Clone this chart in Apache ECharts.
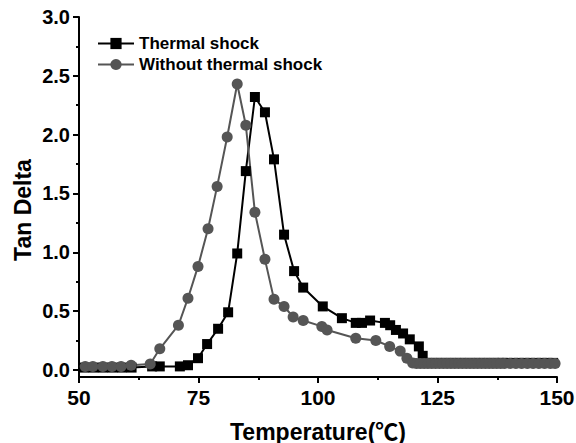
<!DOCTYPE html>
<html><head><meta charset="utf-8">
<script src="https://cdn.jsdelivr.net/npm/echarts@6/dist/echarts.min.js"></script>
<style>html,body{margin:0;padding:0;background:#fff}#c{width:576px;height:443px}</style>
</head><body><div id="c"></div>
<script>
// Thermal shock (squares)
var tempShock = [51, 53, 55, 57, 59, 61, 65.3, 66.9, 71.1, 72.8, 74.9, 76.8, 79.1, 81.2, 83.1, 84.9, 86.8, 88.9, 90.8, 92.9, 95.0, 96.9, 101.0, 105.0, 107.9, 109.2, 110.9, 114.0, 115.1, 116.3, 117.8, 119.2, 121.1, 121.9,
  122.8, 123.8, 124.8, 125.8, 126.8, 127.8, 128.8, 129.8, 130.8, 131.8, 132.8, 133.8, 134.8, 135.8, 136.8, 137.8, 138.6, 139.6, 140.8, 142.0, 143.2, 144.4, 145.6, 146.8, 148.0, 149.2];
var tanShock = [0.02, 0.02, 0.02, 0.02, 0.02, 0.02, 0.03, 0.03, 0.03, 0.04, 0.10, 0.22, 0.35, 0.49, 0.99, 1.69, 2.32, 2.19, 1.79, 1.15, 0.84, 0.70, 0.54, 0.44, 0.40, 0.40, 0.42, 0.40, 0.38, 0.34, 0.31, 0.26, 0.20, 0.12,
  0.06, 0.06, 0.06, 0.06, 0.06, 0.06, 0.06, 0.06, 0.06, 0.06, 0.06, 0.06, 0.06, 0.06, 0.06, 0.06, 0.06, 0.06, 0.06, 0.06, 0.06, 0.06, 0.06, 0.06, 0.06, 0.06];
// Without thermal shock (circles)
var tempNo = [51.3, 52.9, 55.0, 56.9, 58.8, 60.9, 64.9, 66.9, 70.8, 72.8, 74.9, 77.0, 78.9, 81.0, 83.1, 84.9, 86.8, 88.9, 90.8, 92.9, 94.8, 96.9, 100.8, 101.9, 107.9, 112.1, 115.0, 117.2, 118.6,
  119.8, 120.6, 121.4, 122.2, 123.0, 123.8, 124.6, 125.4, 126.2, 127.0, 127.8, 128.6, 129.4, 130.2, 131.0, 131.8, 132.6, 133.4, 134.2, 135.0, 135.8, 136.6, 137.4, 138.2, 139.0, 140.2, 141.4, 142.6, 143.8, 145.0, 146.2, 147.4, 148.6, 149.6];
var tanNo = [0.03, 0.03, 0.03, 0.03, 0.03, 0.04, 0.05, 0.18, 0.38, 0.61, 0.88, 1.20, 1.56, 1.98, 2.43, 2.08, 1.34, 0.94, 0.60, 0.54, 0.45, 0.42, 0.37, 0.34, 0.27, 0.25, 0.20, 0.16, 0.10,
  0.06, 0.055, 0.055, 0.055, 0.055, 0.055, 0.055, 0.055, 0.055, 0.055, 0.055, 0.055, 0.055, 0.055, 0.055, 0.055, 0.055, 0.055, 0.055, 0.055, 0.055, 0.055, 0.055, 0.055, 0.055, 0.055, 0.055, 0.055, 0.055, 0.055, 0.055, 0.055, 0.055, 0.055];
var yTicks = [0, 0.5, 1.0, 1.5, 2.0, 2.5, 3.0];
var yMinorTicks = [0.25, 0.75, 1.25, 1.75, 2.25, 2.75];
var seriesNames = ['Thermal shock', 'Without thermal shock'];
var xTitle = 'Temperature(\u2103)';
var yTitle = 'Tan Delta';

function pairs(xs, ys) {
  var out = [];
  for (var i = 0; i < Math.min(xs.length, ys.length); i++) { out.push([xs[i], ys[i]]); }
  return out;
}
var FONT = '"Liberation Sans", Arial, sans-serif';
var TFONT = 'bold 23px "Liberation Sans", Arial, "Noto Sans CJK SC", sans-serif';

var chart = echarts.init(document.getElementById('c'), null, {renderer: 'svg', width: 576, height: 443});
chart.setOption({
  animation: false,
  backgroundColor: '#ffffff',
  grid: {left: 79, right: 19, top: 17, bottom: 66, containLabel: false, outerBoundsMode: 'none'},
  legend: {
    left: 92, top: 30, orient: 'vertical', itemWidth: 36, itemHeight: 14, itemGap: 4,
    textStyle: {fontFamily: FONT, fontWeight: 'bold', fontSize: 17, color: '#000', lineHeight: 17},
    data: seriesNames
  },
  graphic: [
    {type: 'text', x: 318, y: 432, z: 10, style: {text: xTitle, font: TFONT, fill: '#000', textAlign: 'center', textVerticalAlign: 'middle', verticalAlign: 'middle'}},
    {type: 'text', x: 23, y: 210, rotation: Math.PI / 2, z: 10, style: {text: yTitle, font: TFONT, fill: '#000', textAlign: 'center', textVerticalAlign: 'middle', verticalAlign: 'middle'}}
  ],
  xAxis: {
    type: 'value', min: 50, max: 150, interval: 25,
    axisLine: {show: true, onZero: false, lineStyle: {color: '#000', width: 2}},
    axisTick: {show: true, inside: false, length: 6, lineStyle: {color: '#000', width: 2}},
    minorTick: {show: true, splitNumber: 2, length: 3, lineStyle: {color: '#000', width: 2}},
    axisLabel: {fontFamily: FONT, fontWeight: 'bold', fontSize: 21, color: '#000', margin: 10},
    splitLine: {show: false}
  },
  yAxis: [{
    type: 'value', min: -0.06, max: 3.0, position: 'left',
    axisLine: {show: true, onZero: false, lineStyle: {color: '#000', width: 2}},
    axisTick: {show: true, inside: false, length: 6, customValues: yTicks, lineStyle: {color: '#000', width: 2}},
    axisLabel: {fontFamily: FONT, fontWeight: 'bold', fontSize: 20, color: '#000', margin: 9, customValues: yTicks,
      formatter: function (v) { return v.toFixed(1); }},
    splitLine: {show: false}
  }, {
    type: 'value', min: -0.06, max: 3.0, position: 'left', offset: 0,
    axisLine: {show: false, onZero: false},
    axisTick: {show: true, inside: false, length: 3, customValues: yMinorTicks, lineStyle: {color: '#000', width: 2}},
    axisLabel: {show: false},
    splitLine: {show: false}
  }],
  series: [{
    name: seriesNames[0], type: 'line', data: pairs(tempShock, tanShock), clip: false,
    symbol: 'rect', symbolSize: 10, color: '#000',
    lineStyle: {color: '#000', width: 2}, itemStyle: {color: '#000'}
  }, {
    name: seriesNames[1], type: 'line', data: pairs(tempNo, tanNo), clip: false,
    symbol: 'circle', symbolSize: 11, color: '#555',
    lineStyle: {color: '#555', width: 2}, itemStyle: {color: '#555'}
  }]
});
</script></body></html>
